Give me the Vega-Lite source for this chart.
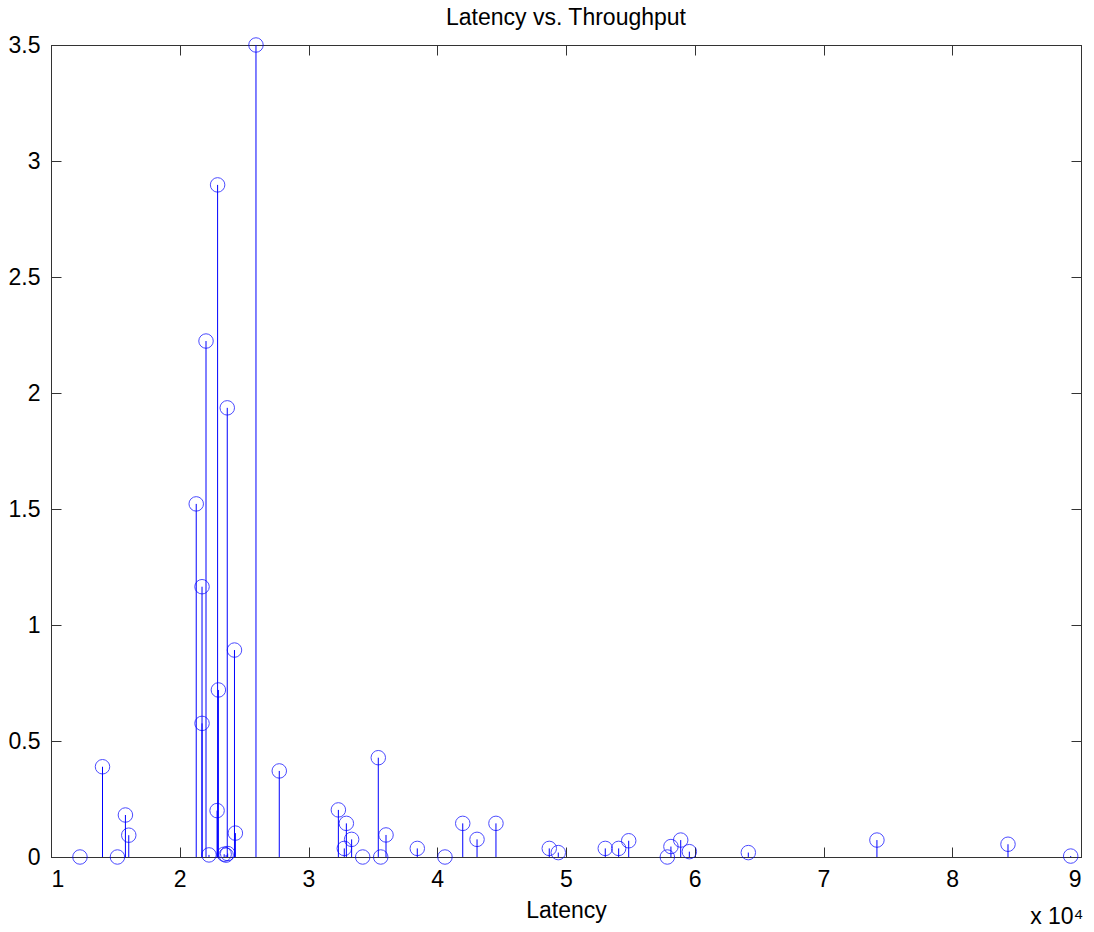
{
  "$schema": "https://vega.github.io/schema/vega-lite/v6.json",
  "autosize": {"type": "none"},
  "padding": {"left": 51, "top": 45, "right": 13, "bottom": 75},
  "width": 1030,
  "height": 812,
  "background": "white",
  "title": {"text": "Latency vs. Throughput", "fontSize": 23, "fontWeight": "normal", "font": "Liberation Sans", "color": "black", "offset": 4},
  "config": {
    "view": {"stroke": "#333", "strokeWidth": 1},
    "axis": {"grid": false, "labelFont": "Liberation Sans", "titleFont": "Liberation Sans", "labelFontSize": 23, "titleFontSize": 23, "titleFontWeight": "normal", "labelColor": "black", "titleColor": "black", "domainColor": "#333", "tickColor": "#333", "tickSize": -10, "labelPadding": 21}
  },
  "data": {"values": [
    {"latency": 12250, "throughput": 0},
    {"latency": 14000, "throughput": 0.389},
    {"latency": 15160, "throughput": 0},
    {"latency": 15780, "throughput": 0.181},
    {"latency": 16040, "throughput": 0.094},
    {"latency": 21280, "throughput": 1.522},
    {"latency": 21730, "throughput": 1.165},
    {"latency": 21730, "throughput": 0.576},
    {"latency": 22040, "throughput": 2.224},
    {"latency": 22270, "throughput": 0.009},
    {"latency": 22940, "throughput": 2.897},
    {"latency": 23000, "throughput": 0.72},
    {"latency": 22900, "throughput": 0.2},
    {"latency": 23450, "throughput": 0.012},
    {"latency": 23600, "throughput": 0.008},
    {"latency": 23720, "throughput": 0.015},
    {"latency": 23690, "throughput": 1.936},
    {"latency": 24250, "throughput": 0.892},
    {"latency": 24320, "throughput": 0.103},
    {"latency": 25920, "throughput": 3.5},
    {"latency": 27730, "throughput": 0.371},
    {"latency": 32320, "throughput": 0.203},
    {"latency": 32940, "throughput": 0.145},
    {"latency": 32780, "throughput": 0.037},
    {"latency": 33350, "throughput": 0.076},
    {"latency": 34210, "throughput": 0},
    {"latency": 35420, "throughput": 0.428},
    {"latency": 35610, "throughput": 0},
    {"latency": 36020, "throughput": 0.095},
    {"latency": 38450, "throughput": 0.037},
    {"latency": 40600, "throughput": 0},
    {"latency": 41980, "throughput": 0.145},
    {"latency": 43090, "throughput": 0.076},
    {"latency": 44560, "throughput": 0.145},
    {"latency": 48700, "throughput": 0.037},
    {"latency": 49400, "throughput": 0.019},
    {"latency": 53050, "throughput": 0.037},
    {"latency": 54090, "throughput": 0.037},
    {"latency": 54870, "throughput": 0.07},
    {"latency": 57870, "throughput": 0},
    {"latency": 58150, "throughput": 0.045},
    {"latency": 58910, "throughput": 0.073},
    {"latency": 59580, "throughput": 0.023},
    {"latency": 64160, "throughput": 0.019},
    {"latency": 74150, "throughput": 0.073},
    {"latency": 84330, "throughput": 0.055},
    {"latency": 89200, "throughput": 0.004}
  ]},
  "resolve": {"axis": {"x": "independent", "y": "independent"}},
  "layer": [
    {
      "mark": {"type": "rule", "color": "#0000ff", "strokeWidth": 1},
      "encoding": {
        "x": {"field": "latency", "type": "quantitative", "scale": {"domain": [10000, 90000], "nice": false, "zero": false},
              "axis": {"orient": "bottom", "title": "Latency", "values": [10000, 20000, 30000, 40000, 50000, 60000, 70000, 80000, 90000], "labelExpr": "datum.value / 10000", "titlePadding": 8}},
        "y": {"field": "throughput", "type": "quantitative", "scale": {"domain": [0, 3.5], "nice": false},
              "axis": {"orient": "left", "title": null, "values": [0, 0.5, 1, 1.5, 2, 2.5, 3, 3.5], "format": "~g"}},
        "y2": {"datum": 0}
      }
    },
    {
      "mark": {"type": "point", "shape": "circle", "filled": false, "stroke": "#0000ff", "strokeWidth": 1, "size": 210},
      "encoding": {
        "x": {"field": "latency", "type": "quantitative", "scale": {"domain": [10000, 90000], "nice": false, "zero": false},
              "axis": {"orient": "top", "title": null, "labels": false, "values": [10000, 20000, 30000, 40000, 50000, 60000, 70000, 80000, 90000]}},
        "y": {"field": "throughput", "type": "quantitative", "scale": {"domain": [0, 3.5], "nice": false},
              "axis": {"orient": "right", "labels": false, "values": [0, 0.5, 1, 1.5, 2, 2.5, 3, 3.5], "title": "x 10⁴", "titleAngle": 0, "titleAlign": "right", "titleBaseline": "alphabetic", "titleX": 2, "titleY": 878}}
      }
    }
  ]
}
